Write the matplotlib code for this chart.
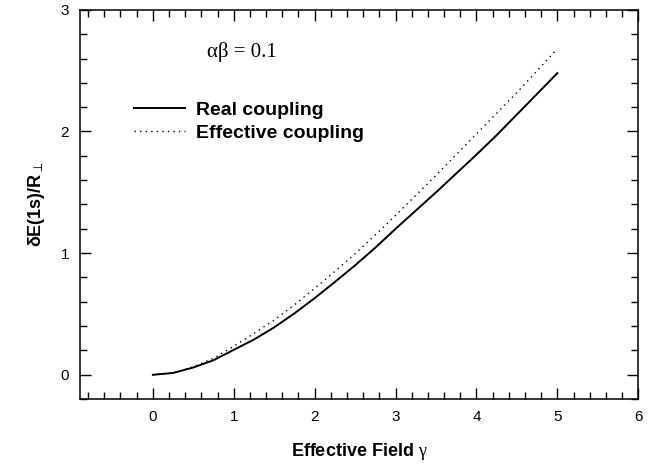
import matplotlib
matplotlib.use("Agg")
import matplotlib.pyplot as plt
from matplotlib.ticker import MultipleLocator

plt.rcParams["font.family"] = ["Liberation Sans", "DejaVu Sans"]
plt.rcParams["mathtext.fontset"] = "custom"
plt.rcParams["mathtext.rm"] = "Liberation Serif"
plt.rcParams["mathtext.it"] = "Liberation Serif"
plt.rcParams["mathtext.bf"] = "Liberation Sans:bold"
plt.rcParams["mathtext.sf"] = "DejaVu Sans"

# values
gamma = [0.0, 0.25, 0.5, 0.75, 1.0, 1.25, 1.5, 1.75, 2.0, 2.25, 2.5,
         2.75, 3.0, 3.25, 3.5, 3.75, 4.0, 4.25, 4.5, 4.75, 5.0]
real_coupling = [0.0, 0.015, 0.06, 0.12, 0.205, 0.29, 0.39, 0.505, 0.63,
                 0.763, 0.90, 1.045, 1.20, 1.35, 1.50, 1.655, 1.81, 1.97,
                 2.14, 2.31, 2.48]
effective_coupling = [0.0, 0.016, 0.065, 0.135, 0.235, 0.34, 0.45, 0.575,
                      0.71, 0.85, 0.995, 1.15, 1.31, 1.475, 1.64, 1.81,
                      1.98, 2.15, 2.32, 2.50, 2.68]

fig = plt.figure(figsize=(6.56, 4.69), dpi=100)
ax = fig.add_axes([0.122, 0.149, 0.851, 0.830])

ax.plot(gamma, real_coupling, color="black", lw=1.4, label="Real coupling")
ax.plot(gamma, effective_coupling, color="black", lw=1.0,
        linestyle=(0, (1, 3)), label="Effective coupling")

ax.set_xlim(-0.9, 6)
ax.set_ylim(-0.2, 3)
ax.xaxis.set_major_locator(MultipleLocator(1))
ax.xaxis.set_minor_locator(MultipleLocator(0.2))
ax.yaxis.set_major_locator(MultipleLocator(1))
ax.yaxis.set_minor_locator(MultipleLocator(0.2))
ax.tick_params(which="both", direction="in", top=True, right=True,
               width=1.0, labelsize=11, pad=8)
ax.tick_params(which="major", length=8)
ax.tick_params(which="minor", length=5)
for sp in ax.spines.values():
    sp.set_linewidth(1.1)

ax.set_xlabel(r"Effective Field $\gamma$", fontsize=13, fontweight="bold",
              labelpad=12)
ax.set_ylabel(r"$\mathbf{\delta E(1s)/R}_{\mathsf{\perp}}$", fontsize=13,
              labelpad=10)

ax.text(0.67, 2.65, "αβ = 0.1", family="Liberation Serif", fontsize=15,
        va="center", ha="left")

ax.legend(loc="upper left", bbox_to_anchor=(0.097, 0.766), frameon=False,
          borderpad=0, borderaxespad=0, handlelength=2.6, handletextpad=0.6,
          labelspacing=0.3,
          prop={"family": "Liberation Sans", "weight": "bold", "size": 14})

fig.savefig("out.png", dpi=100)
